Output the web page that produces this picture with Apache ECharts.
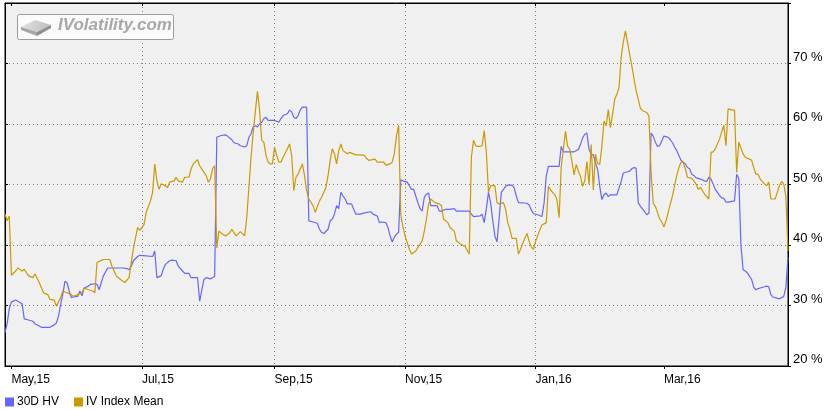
<!DOCTYPE html>
<html><head><meta charset="utf-8">
<script src="https://cdn.jsdelivr.net/npm/echarts@6/dist/echarts.min.js"></script>
<style>html,body{margin:0;padding:0;background:#fff}#c{width:829px;height:409px}</style>
</head><body><div id="c"></div>
<script>
// ---- data ----
const hvDates = ['2015-04-28','2015-04-29','2015-04-30','2015-05-01','2015-05-03','2015-05-04','2015-05-06','2015-05-07','2015-05-09','2015-05-11','2015-05-12','2015-05-14','2015-05-15','2015-05-19','2015-05-21','2015-05-22','2015-05-23','2015-05-24','2015-05-25','2015-05-26','2015-05-27','2015-05-28','2015-05-29','2015-05-30','2015-06-01','2015-06-02','2015-06-03','2015-06-04','2015-06-06','2015-06-07','2015-06-09','2015-06-10','2015-06-11','2015-06-12','2015-06-13','2015-06-15','2015-06-22','2015-06-24','2015-06-25','2015-06-26','2015-06-27','2015-06-29','2015-06-30','2015-07-03','2015-07-06','2015-07-07','2015-07-08','2015-07-10','2015-07-11','2015-07-12','2015-07-14','2015-07-15','2015-07-17','2015-07-18','2015-07-20','2015-07-21','2015-07-23','2015-07-24','2015-07-27','2015-07-28','2015-07-29','2015-07-30','2015-07-31','2015-08-02','2015-08-03','2015-08-04','2015-08-05','2015-08-07','2015-08-09','2015-08-10','2015-08-12','2015-08-13','2015-08-15','2015-08-16','2015-08-18','2015-08-19','2015-08-20','2015-08-21','2015-08-22','2015-08-23','2015-08-24','2015-08-25','2015-08-26','2015-08-27','2015-08-28','2015-08-29','2015-09-01','2015-09-03','2015-09-04','2015-09-05','2015-09-07','2015-09-08','2015-09-09','2015-09-10','2015-09-11','2015-09-12','2015-09-13','2015-09-14','2015-09-16','2015-09-17','2015-09-19','2015-09-21','2015-09-22','2015-09-23','2015-09-24','2015-09-26','2015-09-27','2015-09-28','2015-09-29','2015-09-30','2015-10-01','2015-10-02','2015-10-03','2015-10-04','2015-10-05','2015-10-07','2015-10-08','2015-10-09','2015-10-11','2015-10-13','2015-10-16','2015-10-17','2015-10-19','2015-10-20','2015-10-21','2015-10-23','2015-10-24','2015-10-25','2015-10-26','2015-10-27','2015-10-28','2015-10-29','2015-10-30','2015-10-31','2015-11-02','2015-11-03','2015-11-04','2015-11-05','2015-11-06','2015-11-07','2015-11-08','2015-11-09','2015-11-10','2015-11-11','2015-11-12','2015-11-13','2015-11-16','2015-11-17','2015-11-18','2015-11-20','2015-11-22','2015-11-24','2015-11-25','2015-12-01','2015-12-02','2015-12-03','2015-12-06','2015-12-07','2015-12-08','2015-12-09','2015-12-10','2015-12-11','2015-12-12','2015-12-13','2015-12-14','2015-12-15','2015-12-16','2015-12-17','2015-12-18','2015-12-19','2015-12-21','2015-12-22','2015-12-23','2015-12-24','2015-12-28','2015-12-29','2015-12-30','2015-12-31','2016-01-02','2016-01-04','2016-01-05','2016-01-06','2016-01-07','2016-01-12','2016-01-13','2016-01-14','2016-01-19','2016-01-21','2016-01-22','2016-01-23','2016-01-24','2016-01-25','2016-01-26','2016-01-27','2016-01-28','2016-01-29','2016-01-30','2016-01-31','2016-02-01','2016-02-02','2016-02-03','2016-02-04','2016-02-05','2016-02-08','2016-02-09','2016-02-10','2016-02-11','2016-02-13','2016-02-14','2016-02-15','2016-02-16','2016-02-17','2016-02-18','2016-02-19','2016-02-21','2016-02-22','2016-02-23','2016-02-24','2016-02-25','2016-02-26','2016-02-27','2016-02-28','2016-02-29','2016-03-01','2016-03-03','2016-03-04','2016-03-05','2016-03-06','2016-03-07','2016-03-08','2016-03-09','2016-03-10','2016-03-11','2016-03-12','2016-03-13','2016-03-14','2016-03-15','2016-03-16','2016-03-17','2016-03-18','2016-03-20','2016-03-21','2016-03-22','2016-03-23','2016-03-24','2016-03-25','2016-03-26','2016-03-27','2016-03-28','2016-03-29','2016-03-30','2016-03-31','2016-04-03','2016-04-04','2016-04-05','2016-04-06','2016-04-07','2016-04-08','2016-04-09','2016-04-11','2016-04-12','2016-04-13','2016-04-14','2016-04-15','2016-04-17','2016-04-18','2016-04-19','2016-04-20','2016-04-21','2016-04-22','2016-04-24','2016-04-25','2016-04-26','2016-04-27','2016-04-28'];
const hvValues = [25.5,27.0,29.5,30.6,30.9,30.7,30.3,27.8,27.6,27.4,27.0,26.6,26.4,26.4,26.8,27.1,28.2,30.2,31.8,34.0,33.8,32.4,31.3,31.4,31.5,32.4,31.6,32.9,33.2,33.5,33.6,33.5,32.6,33.8,34.9,36.2,36.2,36.1,35.9,36.5,37.4,38.1,38.3,38.2,38.1,39.0,34.6,34.9,36.0,36.8,37.4,37.5,37.4,36.5,35.7,35.3,35.3,34.6,34.6,30.7,32.6,34.3,34.6,34.4,34.6,34.8,57.8,58.1,58.2,58.0,57.4,56.9,56.7,56.4,56.2,56.4,57.8,58.4,59.5,59.7,59.5,60.0,60.3,60.9,61.1,60.6,60.6,60.3,60.9,61.4,61.7,62.3,62.0,61.1,60.9,61.4,62.3,62.8,62.8,44.0,43.8,43.6,42.6,42.1,41.9,42.6,44.0,44.3,45.1,46.5,46.0,48.7,48.1,47.6,46.8,46.8,45.9,45.1,45.1,45.3,45.5,45.1,44.8,43.7,43.8,43.7,42.9,41.5,40.5,41.3,41.8,42.1,50.8,50.6,50.4,49.8,49.2,49.2,48.1,47.0,46.0,45.6,47.9,48.4,48.6,46.5,46.5,45.6,45.6,45.9,45.9,46.0,45.6,45.6,45.1,44.7,44.8,45.1,43.7,46.0,48.7,47.0,44.0,41.5,40.5,44.5,48.7,49.2,49.7,49.9,49.9,49.5,48.1,47.0,46.9,46.6,45.8,45.2,45.0,44.7,47.0,51.4,53.0,53.0,56.3,55.4,55.4,55.8,56.6,57.7,58.3,58.5,55.8,55.0,54.9,53.6,52.5,49.7,47.5,48.3,48.6,48.0,48.3,48.3,49.4,50.5,51.9,52.1,52.2,52.6,52.8,52.7,47.0,46.4,45.5,45.0,45.3,58.5,58.0,57.0,56.3,56.4,57.2,58.0,57.8,57.4,56.9,56.2,55.6,54.8,54.0,53.7,53.4,52.8,52.6,51.7,51.5,51.1,51.0,50.9,50.6,50.5,51.2,50.9,50.1,49.2,48.7,48.2,47.8,47.7,47.1,47.1,47.3,51.7,51.0,40.0,35.9,35.7,35.4,34.3,33.0,32.6,32.8,32.9,33.1,33.2,33.1,31.8,31.4,31.3,31.1,31.3,31.5,33.0,38.0];

const ivDates = ['2015-04-28','2015-04-29','2015-04-30','2015-05-01','2015-05-03','2015-05-04','2015-05-06','2015-05-07','2015-05-09','2015-05-11','2015-05-12','2015-05-14','2015-05-16','2015-05-18','2015-05-19','2015-05-21','2015-05-22','2015-05-24','2015-05-25','2015-05-27','2015-05-29','2015-05-30','2015-06-01','2015-06-03','2015-06-04','2015-06-06','2015-06-08','2015-06-09','2015-06-10','2015-06-11','2015-06-13','2015-06-16','2015-06-17','2015-06-19','2015-06-21','2015-06-23','2015-06-25','2015-06-26','2015-06-27','2015-06-29','2015-06-30','2015-07-01','2015-07-02','2015-07-03','2015-07-05','2015-07-06','2015-07-07','2015-07-08','2015-07-09','2015-07-10','2015-07-12','2015-07-13','2015-07-14','2015-07-16','2015-07-17','2015-07-18','2015-07-20','2015-07-21','2015-07-23','2015-07-24','2015-07-25','2015-07-27','2015-07-28','2015-07-30','2015-07-31','2015-08-01','2015-08-02','2015-08-03','2015-08-04','2015-08-05','2015-08-06','2015-08-07','2015-08-09','2015-08-11','2015-08-12','2015-08-14','2015-08-16','2015-08-18','2015-08-19','2015-08-20','2015-08-21','2015-08-22','2015-08-23','2015-08-24','2015-08-25','2015-08-26','2015-08-27','2015-08-28','2015-08-29','2015-08-30','2015-08-31','2015-09-01','2015-09-02','2015-09-03','2015-09-04','2015-09-05','2015-09-07','2015-09-08','2015-09-09','2015-09-10','2015-09-11','2015-09-12','2015-09-13','2015-09-14','2015-09-15','2015-09-16','2015-09-17','2015-09-19','2015-09-20','2015-09-22','2015-09-23','2015-09-25','2015-09-26','2015-09-27','2015-09-28','2015-09-29','2015-09-30','2015-10-01','2015-10-02','2015-10-03','2015-10-05','2015-10-06','2015-10-09','2015-10-11','2015-10-13','2015-10-14','2015-10-15','2015-10-18','2015-10-19','2015-10-22','2015-10-23','2015-10-25','2015-10-26','2015-10-27','2015-10-28','2015-10-29','2015-10-30','2015-10-31','2015-11-01','2015-11-03','2015-11-04','2015-11-06','2015-11-07','2015-11-09','2015-11-10','2015-11-11','2015-11-12','2015-11-13','2015-11-14','2015-11-15','2015-11-17','2015-11-18','2015-11-19','2015-11-21','2015-11-22','2015-11-24','2015-11-25','2015-11-27','2015-11-29','2015-12-01','2015-12-02','2015-12-03','2015-12-04','2015-12-05','2015-12-06','2015-12-07','2015-12-08','2015-12-09','2015-12-10','2015-12-11','2015-12-13','2015-12-14','2015-12-15','2015-12-17','2015-12-18','2015-12-19','2015-12-20','2015-12-21','2015-12-23','2015-12-24','2015-12-25','2015-12-26','2015-12-27','2015-12-28','2015-12-29','2015-12-30','2015-12-31','2016-01-01','2016-01-03','2016-01-04','2016-01-06','2016-01-07','2016-01-08','2016-01-10','2016-01-11','2016-01-12','2016-01-13','2016-01-14','2016-01-15','2016-01-16','2016-01-17','2016-01-18','2016-01-19','2016-01-20','2016-01-21','2016-01-22','2016-01-23','2016-01-24','2016-01-25','2016-01-26','2016-01-27','2016-01-28','2016-01-29','2016-01-30','2016-01-31','2016-02-01','2016-02-02','2016-02-03','2016-02-04','2016-02-05','2016-02-06','2016-02-07','2016-02-08','2016-02-09','2016-02-10','2016-02-11','2016-02-12','2016-02-13','2016-02-14','2016-02-15','2016-02-16','2016-02-17','2016-02-18','2016-02-19','2016-02-20','2016-02-22','2016-02-23','2016-02-24','2016-02-25','2016-02-26','2016-02-27','2016-02-28','2016-02-29','2016-03-01','2016-03-02','2016-03-03','2016-03-04','2016-03-05','2016-03-06','2016-03-07','2016-03-08','2016-03-09','2016-03-10','2016-03-11','2016-03-12','2016-03-14','2016-03-15','2016-03-16','2016-03-17','2016-03-18','2016-03-19','2016-03-20','2016-03-22','2016-03-23','2016-03-24','2016-03-25','2016-03-26','2016-03-27','2016-03-28','2016-03-29','2016-03-30','2016-03-31','2016-04-02','2016-04-03','2016-04-04','2016-04-05','2016-04-06','2016-04-07','2016-04-08','2016-04-10','2016-04-11','2016-04-12','2016-04-13','2016-04-14','2016-04-15','2016-04-17','2016-04-18','2016-04-19','2016-04-20','2016-04-22','2016-04-23','2016-04-24','2016-04-25','2016-04-26','2016-04-27','2016-04-28'];
const ivValues = [45.1,44.0,44.8,35.0,35.7,36.2,35.7,36.0,34.9,34.6,35.2,33.8,32.1,31.8,31.0,30.9,29.9,31.3,32.4,32.1,31.8,31.5,31.8,32.1,32.9,32.6,32.4,32.1,37.1,37.3,37.6,37.6,36.5,34.9,34.3,33.8,34.6,37.1,39.4,42.9,42.4,42.9,43.4,45.4,47.3,48.7,53.4,50.6,49.2,50.1,49.8,49.5,50.4,50.6,51.2,50.6,50.4,51.2,51.2,52.6,53.4,54.1,53.1,52.0,51.5,50.4,50.9,52.6,53.1,39.5,42.3,42.0,41.5,42.0,42.6,41.5,42.2,41.5,44.5,49.5,54.5,58.5,62.0,65.4,62.3,57.3,57.0,54.8,53.7,53.4,53.4,56.2,54.8,53.7,53.7,54.5,55.9,56.7,54.8,49.0,51.2,51.7,52.6,53.4,51.5,49.0,47.6,46.5,45.4,47.3,47.9,49.5,51.5,54.0,55.9,55.1,53.4,55.6,56.7,55.6,55.1,55.3,54.9,54.9,54.8,54.3,54.0,54.2,53.7,53.7,53.2,53.4,53.7,55.1,58.1,59.8,45.0,43.0,41.5,39.3,38.5,39.0,39.6,40.7,42.3,44.3,46.8,47.6,47.3,47.0,46.8,46.5,44.3,43.7,42.9,42.3,40.7,40.1,39.8,38.5,54.5,57.3,56.4,56.3,56.3,56.4,58.9,55.3,48.7,49.8,49.8,47.0,46.8,47.0,45.9,43.7,42.6,41.1,41.1,38.5,39.3,40.3,41.1,41.9,40.6,39.7,39.3,40.6,42.5,43.3,43.7,49.7,49.1,48.3,47.5,44.5,53.0,55.8,58.8,56.3,55.8,53.8,51.6,53.3,52.2,51.4,49.7,50.6,53.8,50.0,56.6,49.1,55.0,53.5,53.3,56.3,60.5,59.7,62.4,59.4,61.6,64.1,64.9,66.0,71.0,73.5,75.4,73.5,71.5,69.6,67.5,65.5,64.1,62.6,62.2,61.9,61.3,52.0,46.9,46.4,45.4,44.3,43.8,43.0,44.0,45.4,46.8,48.1,49.8,51.5,52.8,53.7,53.7,52.6,51.2,51.0,50.6,50.1,49.2,49.5,49.0,48.4,47.6,55.3,55.4,55.9,56.7,57.5,58.7,59.8,56.4,62.5,62.3,62.3,52.0,57.0,56.0,55.1,54.5,54.2,54.0,52.8,51.7,51.7,50.9,50.1,49.8,50.4,47.6,47.6,48.7,49.8,50.5,50.1,48.0,39.0];

const xTickDates = ['2015-05-01','2015-07-01','2015-09-01','2015-11-01','2016-01-01','2016-03-01'];
const xTickLabels = ['May,15','Jul,15','Sep,15','Nov,15','Jan,16','Mar,16'];
const xRange = ['2015-04-28','2016-04-28'];
const yTicks = [20,30,40,50,60,70,80];

// ---- helpers ----
function ts(s){const p=s.split('-').map(Number);return Date.UTC(p[0],p[1]-1,p[2]);}
const tickTs = xTickDates.map(ts);
const labelMap = {}; tickTs.forEach((t,i)=>labelMap[t]=xTickLabels[i]);
const FONT = '"Liberation Sans", Arial, sans-serif';

const chart = echarts.init(document.getElementById('c'), null, {renderer:'canvas'});
const xBase = {
  type:'value', min: ts(xRange[0]), max: ts(xRange[1]), scale:true,
  axisLine:{show:true, onZero:false, lineStyle:{color:'#000', width:1}}
};
const yBase = {
  type:'value', min: yTicks[0], max: yTicks[yTicks.length-1], interval:10,
  axisLine:{show:true, onZero:false, lineStyle:{color:'#000', width:1}}
};
chart.setOption({
  animation:false,
  backgroundColor:'#ffffff',
  textStyle:{fontFamily:FONT},
  grid:{left:5, right:41, top:3, bottom:43, show:true, backgroundColor:'#f0f0f0', borderColor:'#000', borderWidth:1},
  legend:{
    left:0, top:391, icon:'rect', itemWidth:9, itemHeight:9, itemGap:15,
    textStyle:{fontSize:12, color:'#000', fontFamily:FONT, padding:[0,0,0,-2]},
    data:['30D HV','IV Index Mean']
  },
  xAxis:[
    Object.assign({}, xBase, {
      position:'bottom',
      axisTick:{show:true, length:3, inside:false, customValues:tickTs, lineStyle:{color:'#000'}},
      axisLabel:{show:true, customValues:tickTs, align:'left', margin:8, fontSize:12, color:'#000', fontFamily:FONT,
        formatter:(v)=>labelMap[v]||''},
      splitLine:{show:true, showMinLine:false, showMaxLine:false, lineStyle:{color:'#7a7a7a', width:1, type:[1,3]}}
    }),
    Object.assign({}, xBase, {
      position:'top',
      axisTick:{show:true, length:3, inside:true, customValues:tickTs, lineStyle:{color:'#000'}},
      axisLabel:{show:false, customValues:tickTs}, splitLine:{show:false}
    })
  ],
  yAxis:[
    Object.assign({}, yBase, {
      position:'right',
      axisTick:{show:true, length:3, inside:false, lineStyle:{color:'#000'}},
      axisLabel:{show:true, margin:5, fontSize:13, color:'#000', fontFamily:FONT, verticalAlign:'bottom', lineHeight:13,
        formatter:(v)=> v===80 ? '' : v + ' %'},
      splitLine:{show:true, showMinLine:false, showMaxLine:false, lineStyle:{color:'#7a7a7a', width:1, type:[1,3]}}
    }),
    Object.assign({}, yBase, {
      position:'left',
      axisTick:{show:true, length:3, inside:true, lineStyle:{color:'#000'}},
      axisLabel:{show:false}, splitLine:{show:false}
    })
  ],
  graphic:[
    {type:'rect', shape:{x:17.5, y:14.5, width:156, height:25, r:2}, style:{fill:'#fbfbfb', stroke:'#9c9c9c', lineWidth:1}, z:100},
    {type:'polygon', shape:{points:[[21,27],[35,20],[51,25],[37,32]]}, style:{fill:new echarts.graphic.LinearGradient(0,0,1,1,[{offset:0,color:'#e6e6e6'},{offset:1,color:'#b8b8b8'}])}, z:101},
    {type:'polygon', shape:{points:[[21,27],[37,32],[37,36],[21,30]]}, style:{fill:'#a6a6a6'}, z:101},
    {type:'polygon', shape:{points:[[37,32],[51,25],[51,28],[37,36]]}, style:{fill:'#8e8e8e'}, z:101},
    {type:'text', x:58, y:17, style:{text:'IVolatility.com', font:'italic bold 17px "Liberation Sans", Arial, sans-serif', fill:'#a8a8a8'}, z:101}
  ],
  series:[
    {name:'30D HV', type:'line', xAxisIndex:0, yAxisIndex:0, showSymbol:false, symbol:'none',
      lineStyle:{color:'#6666ff', width:1.2}, itemStyle:{color:'#6666ff'},
      data: hvDates.map((d,i)=>[ts(d), hvValues[i]])},
    {name:'IV Index Mean', type:'line', xAxisIndex:0, yAxisIndex:0, showSymbol:false, symbol:'none',
      lineStyle:{color:'#cc9900', width:1.2}, itemStyle:{color:'#cc9900'},
      data: ivDates.map((d,i)=>[ts(d), ivValues[i]])}
  ]
});
</script></body></html>
